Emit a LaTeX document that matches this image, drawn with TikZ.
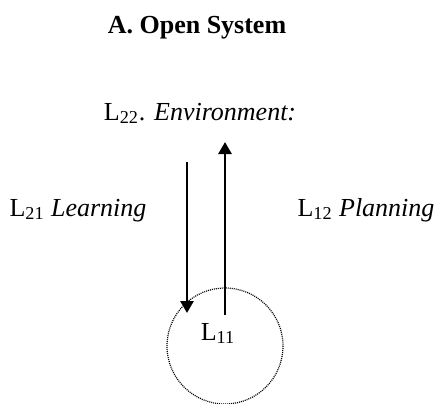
\documentclass[tikz,border=0pt]{standalone}
\usepackage{fontspec}
\setmainfont{Liberation Serif}[
  ItalicFont={Liberation Serif Italic},
  BoldFont={Liberation Serif Bold}]
\usetikzlibrary{arrows.meta}

\tikzset{
  lbl/.style={font=\fontsize{13}{15}\selectfont, inner sep=0pt, anchor=base},
  flow/.style={line width=1.4pt, -{Triangle[length=6pt,width=6.5pt]}},
}

\begin{document}
\begin{tikzpicture}[x=0.5pt,y=-0.5pt]
            \useasboundingbox (0,0) rectangle (437,403);
            \node[lbl,font=\fontsize{13}{15}\selectfont\bfseries] (title) at (197,33) {A. Open System};
            \node[lbl] (env) at (200,120) {L\textsubscript{22}. \textit{Environment:}};
            \node[lbl] (learn) at (78,216) {L\textsubscript{21} \textit{Learning}};
            \node[lbl] (plan) at (366,216) {L\textsubscript{12} \textit{Planning}};
            \node[lbl] (self) at (218,340) {L\textsubscript{11}};
            \draw[line width=0.6pt,dash pattern=on 0.5pt off 0.5pt] (225,346) circle (58);
            \coordinate (learnTop) at (187,162);
            \coordinate (learnEnd) at (187,313);
            \coordinate (planStart) at (225,315);
            \coordinate (planTop) at (225,142);
            \draw[flow] (learnTop) -- (learnEnd);
            \draw[flow] (planStart) -- (planTop);
        \end{tikzpicture}
\end{document}
